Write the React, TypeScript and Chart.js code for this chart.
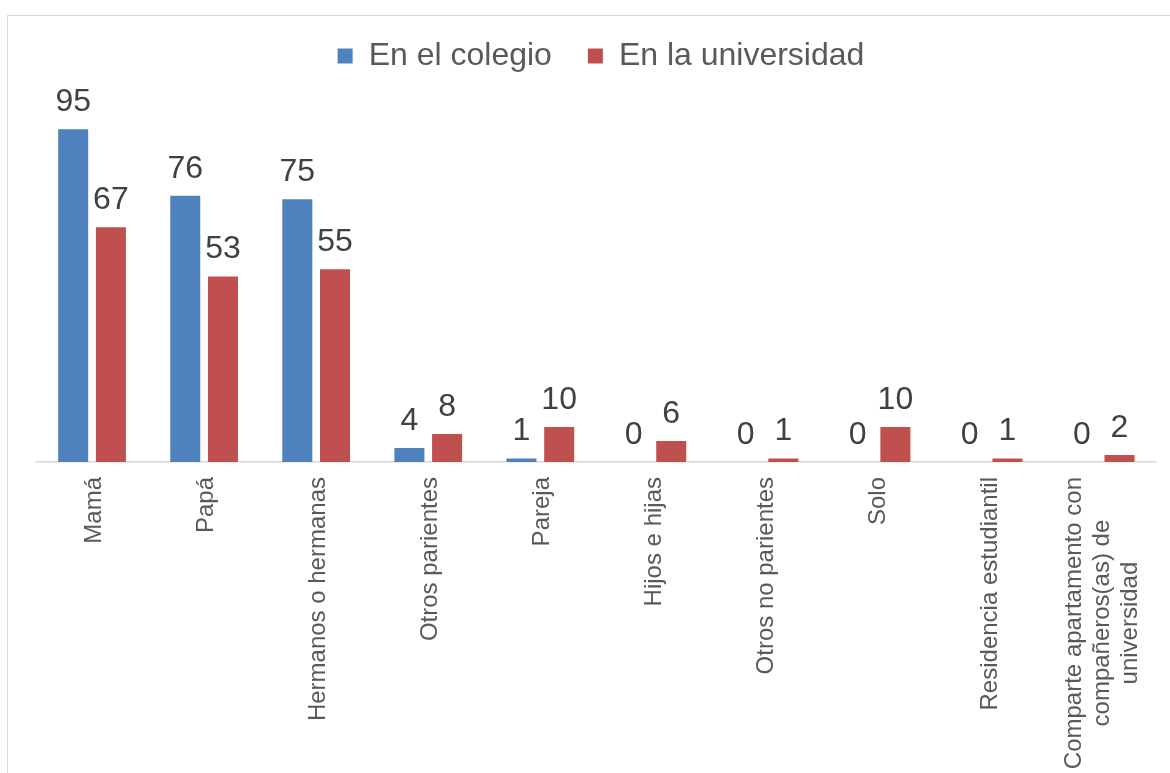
import { useEffect, useRef } from 'react';
import { Chart, registerables } from 'chart.js';

Chart.register(...registerables);

const categories: (string | string[])[] = [
  'Mamá',
  'Papá',
  'Hermanos o hermanas',
  'Otros parientes',
  'Pareja',
  'Hijos e hijas',
  'Otros no parientes',
  'Solo',
  'Residencia estudiantil',
  ['Comparte apartamento con', 'compañeros(as) de', 'universidad'],
];
const seriesNames = ['En el colegio', 'En la universidad'];
const colegio = [95, 76, 75, 4, 1, 0, 0, 0, 0, 0];
const universidad = [67, 53, 55, 8, 10, 6, 1, 10, 1, 2];
const yMin = 0;
const yMax = 108.5;

const FONT = "'Liberation Sans', Arial, sans-serif";
const BLUE = '#4F81BD';
const RED = '#C0504D';

const valueLabels = {
  id: 'valueLabels',
  afterDatasetsDraw(chart: any) {
    const ctx = chart.ctx;
    ctx.save();
    ctx.font = `32px ${FONT}`;
    ctx.fillStyle = '#404040';
    ctx.textAlign = 'center';
    ctx.textBaseline = 'alphabetic';
    chart.data.datasets.forEach((ds: any, di: number) => {
      const meta = chart.getDatasetMeta(di);
      meta.data.forEach((el: any, i: number) => {
        ctx.fillText(String(ds.data[i]), el.x, el.y - 18);
      });
    });
    ctx.restore();
  },
};

const axisLabels = {
  id: 'axisLabels',
  afterDraw(chart: any) {
    const ctx = chart.ctx;
    const xs = chart.scales.x;
    ctx.save();
    ctx.font = `24px ${FONT}`;
    ctx.fillStyle = '#595959';
    ctx.textAlign = 'center';
    ctx.textBaseline = 'middle';
    const top = chart.chartArea.bottom + 15;
    const lh = 28;
    (chart.data.labels as any[]).forEach((lab, i) => {
      const lines: string[] = Array.isArray(lab) ? lab : [lab];
      const maxW = Math.max(...lines.map((l) => ctx.measureText(l).width));
      const x = xs.getPixelForTick(i) + 2;
      ctx.save();
      ctx.translate(x, top);
      ctx.rotate(-Math.PI / 2);
      lines.forEach((l, j) => {
        ctx.fillText(l, -maxW / 2, (j - (lines.length - 1) / 2) * lh);
      });
      ctx.restore();
    });
    ctx.restore();
  },
};

export default function App() {
  const ref = useRef<HTMLCanvasElement>(null);
  useEffect(() => {
    const chart = new Chart(ref.current as HTMLCanvasElement, {
      type: 'bar',
      data: {
        labels: categories as any,
        datasets: [
          { label: seriesNames[0], data: colegio, backgroundColor: BLUE, borderWidth: 0 },
          { label: seriesNames[1], data: universidad, backgroundColor: RED, borderWidth: 0 },
        ],
      },
      options: {
        responsive: false,
        animation: false,
        devicePixelRatio: 1,
        layout: { padding: { left: 28, right: 4, top: 0, bottom: 0 } },
        datasets: { bar: { categoryPercentage: 0.673, barPercentage: 0.796 } },
        plugins: {
          legend: {
            position: 'top',
            labels: {
              boxWidth: 15,
              boxHeight: 15,
              padding: 36,
              color: '#595959',
              font: { family: FONT, size: 32 },
            },
          },
          tooltip: { enabled: false },
        },
        scales: {
          x: {
            grid: { display: false },
            border: { display: true, color: '#d9d9d9', width: 1.5 },
            ticks: { display: false },
            afterFit: (s: any) => {
              s.height = 342;
              s.paddingLeft = 0;
              s.paddingRight = 13.3;
              s.paddingTop = 0;
              s.paddingBottom = 0;
            },
          },
          y: { display: false, min: yMin, max: yMax },
        },
      } as any,
      plugins: [valueLabels, axisLabels],
    });
    return () => chart.destroy();
  }, []);

  return (
    <div style={{ position: 'fixed', inset: 0, overflow: 'hidden', background: '#fff' }}>
      <div
        style={{
          position: 'absolute',
          left: 7,
          top: 15,
          width: 2000,
          height: 2000,
          border: '1px solid #d9d9d9',
        }}
      />
      <canvas
        ref={ref}
        width={1162}
        height={800}
        style={{ position: 'absolute', left: 8, top: 4, width: 1162, height: 800 }}
      />
    </div>
  );
}
